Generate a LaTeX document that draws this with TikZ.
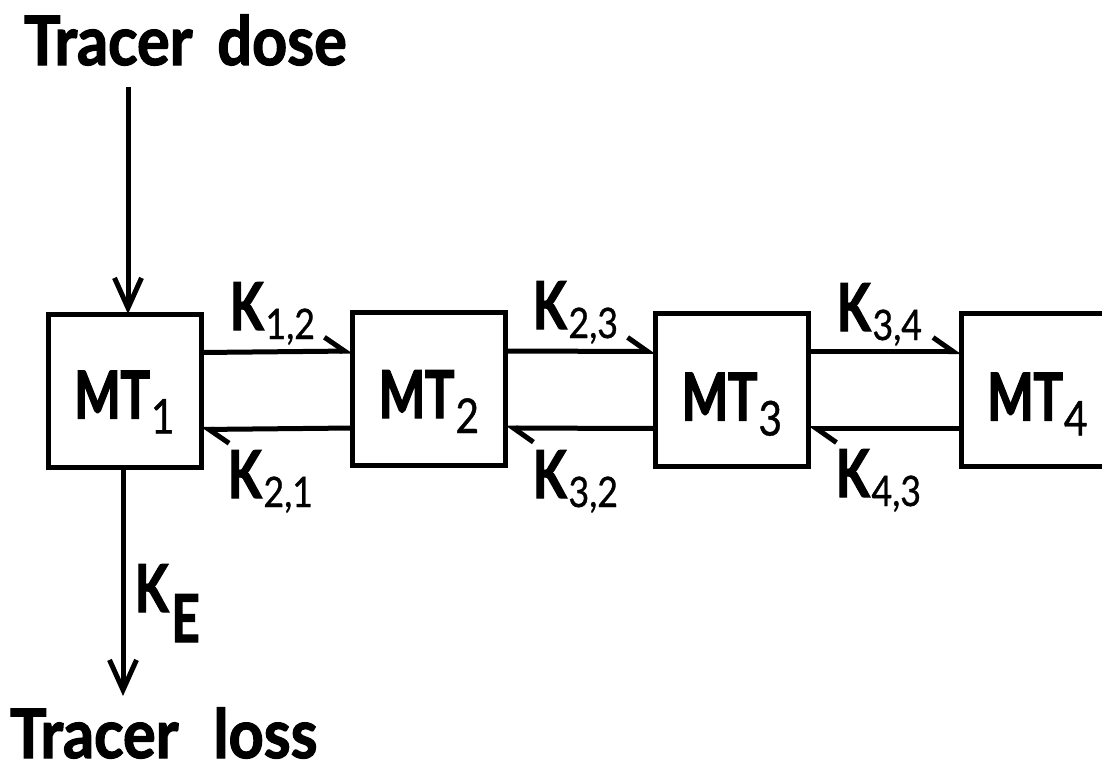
\documentclass[tikz,border=0pt]{standalone}
\usepackage{fontspec}
\usepackage{graphicx}
\usetikzlibrary{arrows.meta}
\newfontfamily\heavyc{Lato}[FakeStretch=0.74, FakeBold=2]
\newfontfamily\heavyt{Lato}[FakeStretch=0.9, FakeBold=1.8]
\newfontfamily\subf{Lato}[FakeStretch=0.85, FakeBold=0.8]
\newcommand\bigb[1]{{\heavyc\fontsize{66}{66}\selectfont\bfseries #1}}
\newcommand\ttl[1]{{\heavyt\fontsize{68}{68}\selectfont\bfseries #1}}
\newcommand\kk{\bigb{K}}
\newcommand\ksub[1]{\kern2pt\raisebox{-9pt}{\subf\fontsize{42}{42}\selectfont #1}}
\newcommand\mt[1]{\bigb{MT}\kern1pt\raisebox{-15pt}{\subf\fontsize{48}{48}\selectfont #1}}
\begin{document}
\begin{tikzpicture}[x=1pt,y=-1pt,
  box/.style={draw, line width=5pt, minimum width=153pt, minimum height=153pt, inner sep=0pt, outer sep=0pt},
  txt/.style={anchor=base west, inner sep=0pt, outer sep=0pt},
  mtlab/.style={anchor=base, inner sep=0pt, outer sep=0pt},
  fwd/.style={line width=5pt, -{Straight Barb[left, length=20pt, width=28pt]}},
  vert/.style={line width=5pt, -{Straight Barb[length=30pt, width=27pt]}}]
\useasboundingbox (0,0) rectangle (1102,769);
\begin{scope}
\clip (0,0) rectangle (1102,769);
% boxes
\node[box] (MT1) at (124.5,390.5) {};
\node[box] (MT2) at (429,389) {};
\node[box] (MT3) at (732,389.5) {};
\node[box] (MT4) at (1037.5,389.5) {};
\end{scope}
% box labels
\node[mtlab] (L1) at ([yshift=-28pt]MT1.center) {\mt{1}};
\node[mtlab] (L2) at ([yshift=-29pt]MT2.center) {\mt{2}};
\node[mtlab] (L3) at ([yshift=-31pt]MT3.center) {\mt{3}};
\node[mtlab] (L4) at ([yshift=-31pt]MT4.center) {\mt{4}};
% exchange arrows
\draw[fwd] ([yshift=38pt]MT1.east) -- ([yshift=38pt]MT2.west);
\draw[fwd] ([yshift=-39pt]MT2.west) -- ([yshift=-39pt]MT1.east);
\draw[fwd] ([yshift=38pt]MT2.east) -- ([yshift=38pt]MT3.west);
\draw[fwd] ([yshift=-39pt]MT3.west) -- ([yshift=-39pt]MT2.east);
\draw[fwd] ([yshift=38pt]MT3.east) -- ([yshift=38pt]MT4.west);
\draw[fwd] ([yshift=-39pt]MT4.west) -- ([yshift=-39pt]MT3.east);
% rate labels
\node[txt] (K12) at (230,330) {\kk\ksub{1,2}};
\node[txt] (K23) at (533,329) {\kk\ksub{2,3}};
\node[txt] (K34) at (837,331) {\kk\ksub{3,4}};
\node[txt] (K21) at (228,498) {\kk\ksub{2,1}};
\node[txt] (K32) at (533,498) {\kk\ksub{3,2}};
\node[txt] (K43) at (836,497) {\kk\ksub{4,3}};
% dose and loss
\node[txt] (dose) at (24,65) {\ttl{Tracer\kern10pt\ dose}};
\node[txt, text depth=0pt] (loss) at (10,758) {\ttl{Tracer\kern20pt\ loss}};
\coordinate (dosestart) at (128,87);
\coordinate (lossend) at (123,696);
\draw[vert] (dosestart) -- (dosestart |- MT1.north);
\draw[vert] (lossend |- MT1.south) -- (lossend);
\node[txt] (KE) at (135,612) {\kk\kern3pt\raisebox{-30pt}{\bigb{E}}};
\end{tikzpicture}
\end{document}
